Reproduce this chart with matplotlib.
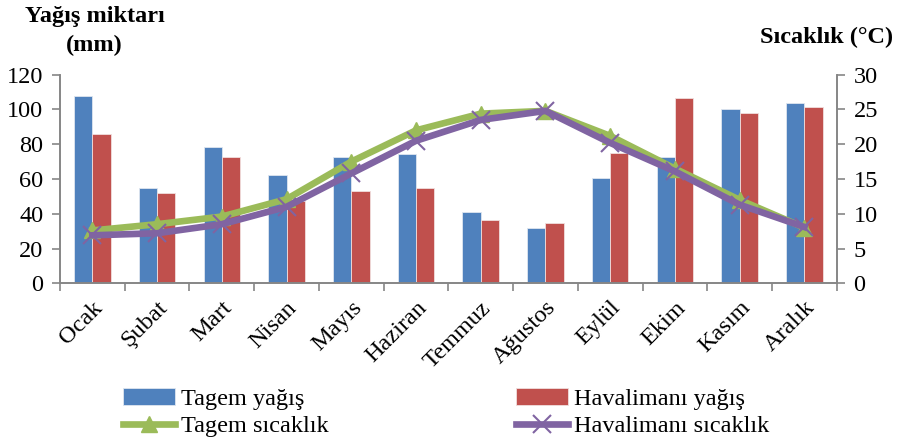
import matplotlib
matplotlib.use("Agg")
import matplotlib.pyplot as plt
import numpy as np

months = ["Ocak", "Şubat", "Mart", "Nisan", "Mayıs", "Haziran", "Temmuz",
          "Ağustos", "Eylül", "Ekim", "Kasım", "Aralık"]
tagem_rain = [107.9, 55.0, 78.6, 62.1, 72.6, 74.2, 41.0, 31.6, 60.4, 72.5, 100.3, 103.9]
airport_rain = [85.9, 52.1, 72.6, 47.5, 53.1, 55.0, 36.6, 34.5, 74.8, 106.8, 98.1, 101.2]
tagem_temp = [7.6, 8.5, 9.6, 12.1, 17.5, 22.0, 24.4, 24.8, 21.2, 16.5, 12.0, 8.0]
airport_temp = [6.9, 7.2, 8.5, 11.0, 15.8, 20.5, 23.5, 24.8, 20.2, 16.1, 11.3, 8.1]
left_ticks = [0, 20, 40, 60, 80, 100, 120]
right_ticks = [0, 5, 10, 15, 20, 25, 30]

plt.rcParams['font.family'] = ['Liberation Serif', 'DejaVu Serif']

BLUE = "#4F81BD"
RED = "#C0504D"
GREEN = "#9BBB59"
PURPLE = "#8064A2"
GRAY = "#868686"
FS = 17.5

fig = plt.figure(figsize=(8.97, 4.37), dpi=100)
ax = fig.add_axes([0.0669, 0.3517, 0.8659, 0.4773])
ax2 = ax.twinx()

x = np.arange(len(months))
w = 0.283
b1 = ax.bar(x - w / 2, tagem_rain, w, color=BLUE, edgecolor="#dfe6f0", linewidth=0.6)
b2 = ax.bar(x + w / 2, airport_rain, w, color=RED, edgecolor="#f0dede", linewidth=0.6)

l1, = ax2.plot(x, tagem_temp, color=GREEN, lw=4.8, marker="^", ms=11)
l2, = ax2.plot(x, airport_temp, color=PURPLE, lw=4.8, marker="x", ms=13, mew=1.5)

ax.set_xlim(-0.5, len(months) - 0.5)
ax.set_ylim(0, 120)
ax2.set_ylim(0, 30)
ax.set_yticks(left_ticks)
ax2.set_yticks(right_ticks)
ax.set_xticks(x)
ax.set_xticklabels(months, rotation=45, ha="right", rotation_mode="anchor", fontsize=FS)
ax.tick_params(axis="x", length=0, pad=10)
ax.set_xticks(np.arange(-0.5, len(months)), minor=True)
ax.tick_params(axis="x", which="minor", length=6, color=GRAY, width=1.2, direction="out")
ax.tick_params(axis="y", labelsize=FS, length=6, color=GRAY, width=1.2, pad=6)
ax2.tick_params(axis="y", labelsize=FS, length=6, color=GRAY, width=1.2, pad=6)

for a in (ax, ax2):
    a.spines["top"].set_visible(False)
    for s in ("left", "right", "bottom"):
        a.spines[s].set_color(GRAY)
        a.spines[s].set_linewidth(1.2)

fig.text(0.106, 0.962, "Yağış miktarı", ha="center", va="center", fontsize=FS, fontweight="bold")
fig.text(0.105, 0.895, "(mm)", ha="center", va="center", fontsize=FS, fontweight="bold")
fig.text(0.921, 0.914, "Sıcaklık (°C)", ha="center", va="center", fontsize=FS, fontweight="bold")

fig.legend([b1, l1, b2, l2],
           ["Tagem yağış", "Tagem sıcaklık", "Havalimanı yağış", "Havalimanı sıcaklık"],
           ncol=2, loc="center left", bbox_to_anchor=(0.137, 0.0560), frameon=False,
           fontsize=FS, handlelength=2.14, handletextpad=0.25, columnspacing=7.7,
           labelspacing=0.22, borderpad=0, borderaxespad=0)

fig.savefig("out.png", dpi=100)
